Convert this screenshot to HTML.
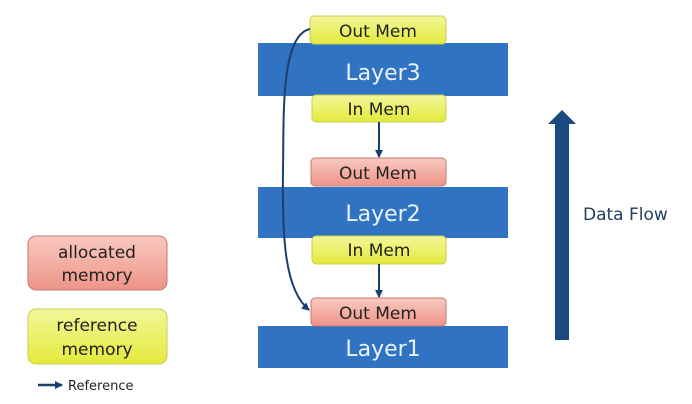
<!DOCTYPE html>
<html><head><meta charset="utf-8"><style>
html,body{margin:0;padding:0;background:#fff;width:692px;height:404px;overflow:hidden}
text{font-family:"DejaVu Sans","Liberation Sans",sans-serif}
</style></head><body>
<svg width="692" height="404" viewBox="0 0 692 404" xmlns="http://www.w3.org/2000/svg">
<defs>
<linearGradient id="y" x1="0" y1="0" x2="0" y2="1"><stop offset="0" stop-color="#f4f79a"/><stop offset="1" stop-color="#e3ea3c"/></linearGradient>
<linearGradient id="r" x1="0" y1="0" x2="0" y2="1"><stop offset="0" stop-color="#f9c9c0"/><stop offset="1" stop-color="#ee9488"/></linearGradient>
<marker id="a" markerWidth="8" markerHeight="8" refX="7" refY="4" orient="auto" markerUnits="userSpaceOnUse"><path d="M0,0 L8,4 L0,8 z" fill="#1a3f6e"/></marker>
</defs>
<!-- layers -->
<rect x="258" y="43" width="250" height="53" fill="#2f73c2"/>
<rect x="258" y="187" width="250" height="51" fill="#2f73c2"/>
<rect x="258" y="326" width="250" height="42" fill="#2f73c2"/>
<text x="383" y="80" font-size="22" fill="#eaf2fb" text-anchor="middle">Layer3</text>
<text x="383" y="221" font-size="22" fill="#eaf2fb" text-anchor="middle">Layer2</text>
<text x="383" y="356" font-size="22" fill="#eaf2fb" text-anchor="middle">Layer1</text>
<!-- mem boxes -->
<rect x="310" y="16" width="136" height="28" rx="4" fill="url(#y)" stroke="#c9cf50"/>
<text x="378" y="37" font-size="17" text-anchor="middle" fill="#222">Out Mem</text>
<rect x="312" y="95" width="134" height="27" rx="4" fill="url(#y)" stroke="#c9cf50"/>
<text x="379" y="115" font-size="17" text-anchor="middle" fill="#222">In Mem</text>
<rect x="311" y="158" width="135" height="28" rx="4" fill="url(#r)" stroke="#c57a70"/>
<text x="378" y="179" font-size="17" text-anchor="middle" fill="#222">Out Mem</text>
<rect x="312" y="236" width="134" height="28" rx="4" fill="url(#y)" stroke="#c9cf50"/>
<text x="379" y="256" font-size="17" text-anchor="middle" fill="#222">In Mem</text>
<rect x="311" y="298" width="135" height="28" rx="4" fill="url(#r)" stroke="#c57a70"/>
<text x="378" y="319" font-size="17" text-anchor="middle" fill="#222">Out Mem</text>
<!-- arrows -->
<line x1="379" y1="122" x2="379" y2="157" stroke="#1a3f6e" stroke-width="2" marker-end="url(#a)"/>
<line x1="379" y1="264" x2="379" y2="297" stroke="#1a3f6e" stroke-width="2" marker-end="url(#a)"/>
<path d="M310,29 C280,35 284,120 283,170 C282,240 285,290 309,310" fill="none" stroke="#1a3f6e" stroke-width="2" marker-end="url(#a)"/>
<!-- data flow -->
<rect x="555" y="123" width="14" height="217" fill="#1b4a80"/>
<path d="M548,124 L562,110 L576,124 z" fill="#1b4a80"/>
<text x="583" y="220" font-size="17" fill="#1f3d5c">Data Flow</text>
<!-- legend -->
<rect x="28" y="236" width="139" height="54" rx="8" fill="url(#r)" stroke="#c57a70"/>
<text x="97" y="258" font-size="17" text-anchor="middle" fill="#222">allocated</text>
<text x="97" y="281" font-size="17" text-anchor="middle" fill="#222">memory</text>
<rect x="28" y="309" width="139" height="55" rx="8" fill="url(#y)" stroke="#c9cf50"/>
<text x="97" y="331" font-size="17" text-anchor="middle" fill="#222">reference</text>
<text x="97" y="355" font-size="17" text-anchor="middle" fill="#222">memory</text>
<line x1="38" y1="385" x2="62" y2="385" stroke="#1a3f6e" stroke-width="2.5" marker-end="url(#a)"/>
<text x="68" y="390" font-size="13" fill="#222">Reference</text>
</svg>
</body></html>
